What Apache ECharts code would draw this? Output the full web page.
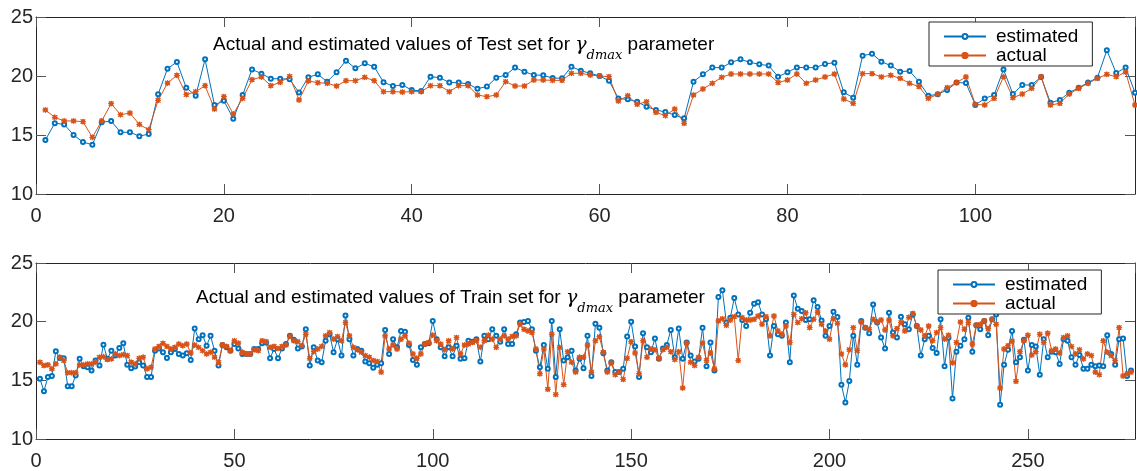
<!DOCTYPE html>
<html>
<head>
<meta charset="utf-8">
<script src="https://cdn.jsdelivr.net/npm/echarts@6/dist/echarts.min.js"></script>
<style>html,body{margin:0;padding:0;background:#fff;}#c{width:1137px;height:471px;}</style>
</head>
<body>
<div id="c"></div>
<script>
// ---- data ----
const seriesNames = ['estimated', 'actual'];
const testEstimated = [14.58,16.0,15.9,15.0,14.4,14.18,16.07,16.19,15.23,15.23,14.9,15.08,18.45,20.62,21.19,19.0,18.33,21.41,17.54,17.9,16.38,18.39,20.56,20.2,19.77,19.77,19.72,18.6,19.9,20.14,
19.52,20.31,21.3,20.65,21.07,20.79,19.46,19.15,19.24,18.81,18.73,19.94,19.86,19.44,19.44,19.32,18.93,19.1,19.86,20.08,20.71,20.37,20.08,20.06,19.83,19.8,20.79,20.45,20.23,
20.0,19.6,18.1,18.02,17.82,17.4,17.12,16.95,16.69,16.41,19.52,20.14,20.71,20.71,21.16,21.41,21.16,20.99,20.88,19.94,20.31,20.73,20.71,20.71,21.02,21.13,18.62,18.16,
21.72,21.89,21.21,20.88,20.37,20.42,19.52,18.33,18.45,18.81,19.44,19.41,17.54,18.1,18.39,20.56,18.47,19.24,19.24,19.92,17.74,17.97,18.59,19.01,19.44,19.86,22.18,20.25,20.73,18.59];
const testActual = [17.12,16.5,16.19,16.19,16.13,14.8,16.2,17.66,16.72,16.86,15.9,15.45,17.94,19.4,20.06,18.42,18.67,19.18,17.2,18.25,16.78,18.1,19.69,19.92,19.18,19.46,19.97,17.97,19.58,19.43,
19.38,19.15,19.6,19.6,19.89,19.6,18.67,18.67,18.64,18.67,18.67,19.18,19.18,18.67,19.18,19.18,18.39,18.25,18.39,19.52,19.15,19.15,19.66,19.66,19.63,19.63,20.23,20.23,20.08,
20.0,19.94,17.88,18.33,17.6,17.82,16.92,16.64,17.2,15.99,18.39,18.9,19.38,19.89,20.17,20.17,20.17,20.17,20.17,19.44,19.66,20.17,19.38,19.66,19.92,20.17,18.05,17.68,
20.2,20.2,19.92,20.06,19.8,19.38,19.1,18.1,18.45,19.01,19.44,19.92,17.6,17.54,18.1,19.94,18.16,18.47,18.95,19.94,17.54,17.68,18.47,18.95,19.38,19.8,20.14,19.94,20.34,17.54];
const trainEstimated = [15.14,14.07,15.28,15.37,17.47,16.91,16.88,14.49,14.49,15.42,16.83,16.21,16.12,15.84,16.69,16.26,18.03,16.83,17.53,17.11,17.75,18.15,16.32,16.04,16.18,16.54,16.26,15.28,15.28,17.53,17.72,17.39,16.91,17.39,17.67,17.25,17.11,17.3,16.74,19.41,18.51,18.85,17.95,18.79,17.53,16.26,
18.01,17.81,17.53,18.09,17.72,17.25,17.25,17.25,17.67,17.67,18.17,18.23,16.88,17.67,16.88,17.72,18.09,18.79,18.46,17.72,17.89,19.35,16.26,17.81,16.69,16.54,18.37,18.93,17.39,18.51,17.11,20.53,18.51,17.11,17.67,17.53,16.6,16.46,16.07,16.32,16.46,19.3,17.25,18.51,17.81,19.21,
19.13,18.01,16.74,16.32,17.81,18.09,18.17,20.06,18.51,17.81,17.05,17.81,17.05,17.95,16.83,16.88,18.37,18.29,18.51,16.6,18.79,18.51,19.35,18.79,18.29,19.35,18.09,18.09,18.93,19.92,19.97,20.06,19.35,17.53,16.12,18.01,15.98,20.06,15.28,19.35,16.69,16.97,17.53,15.84,16.83,
16.04,18.79,15.37,19.83,19.49,17.3,15.84,16.54,15.7,15.7,15.98,18.74,20.0,17.89,15.28,19.02,17.81,17.39,18.57,16.83,17.72,18.01,19.3,16.97,19.41,16.83,18.23,17.11,16.6,16.83,19.49,16.21,18.23,15.84,22.11,22.67,19.92,20.34,22.02,20.62,20.14,19.63,20.76,21.52,21.66,
20.62,20.2,17.11,19.63,18.93,18.79,19.92,16.54,22.22,21.1,20.9,20.14,20.2,21.83,21.24,20.11,18.79,19.63,20.84,20.39,14.63,13.12,14.94,18.79,16.32,20.06,19.49,19.02,21.46,19.92,18.65,17.72,20.76,19.07,18.65,20.42,19.78,19.35,20.62,19.63,17.11,18.51,18.79,17.75,17.33,20.2,
16.21,18.62,13.46,17.44,17.95,18.51,20.34,17.44,19.69,19.35,20.06,18.85,20.2,20.62,12.92,16.32,17.61,19.21,16.54,16.97,18.46,15.84,18.01,17.89,15.48,18.51,16.97,17.44,17.39,16.4,18.51,18.37,16.97,16.32,17.16,15.98,15.98,16.32,16.21,16.26,16.21,18.85,17.25,16.32,18.51,18.57,15.37,15.84];
const trainActual = [16.54,16.26,16.32,15.98,16.4,16.97,16.69,15.65,15.65,15.65,16.32,16.32,16.4,16.4,16.54,16.97,17.02,16.77,16.83,17.25,17.11,17.19,17.11,16.54,16.4,16.88,16.97,15.98,16.12,17.67,17.89,18.15,17.89,17.67,17.81,18.09,17.95,18.09,17.33,18.01,17.81,17.53,17.25,17.39,16.97,16.54,
18.01,17.89,17.53,18.37,18.17,17.39,17.25,17.25,17.61,17.53,18.37,18.29,17.81,17.89,17.72,17.89,18.01,18.74,18.37,18.29,17.95,18.93,16.88,17.44,17.67,17.89,18.79,19.07,18.51,18.74,18.37,19.92,18.79,17.81,17.61,17.39,17.11,16.97,16.69,16.6,15.7,18.79,17.67,18.01,17.67,18.51,
18.79,18.17,17.25,16.88,17.25,18.09,18.23,18.85,18.37,18.09,17.61,18.37,17.67,18.65,17.25,18.01,18.09,18.23,18.37,17.81,18.37,18.85,18.51,17.81,18.51,18.79,18.51,18.74,18.79,19.78,19.35,19.21,19.07,17.67,15.56,17.67,14.24,18.93,13.79,17.81,14.63,17.44,16.54,15.7,16.97,
16.97,18.01,15.7,18.37,18.71,17.39,15.7,16.49,15.48,15.7,15.08,16.88,18.29,17.33,15.56,18.37,16.97,17.67,17.61,16.88,17.61,17.81,17.44,16.77,17.44,14.35,18.17,16.54,16.26,16.97,18.17,16.69,17.33,15.98,20.06,20.25,19.69,20.14,20.42,16.69,20.34,20.14,20.14,20.2,20.48,
19.78,20.42,18.79,20.48,19.21,18.93,19.63,18.23,20.62,19.92,20.25,20.76,19.49,20.2,20.81,19.78,19.21,18.51,20.25,19.86,17.25,16.32,17.61,19.49,17.53,19.97,19.49,19.35,20.2,19.97,20.14,19.3,20.14,18.79,19.41,19.92,19.21,20.37,20.7,19.63,19.3,18.79,19.63,18.37,19.07,19.49,
18.51,18.85,16.49,18.23,19.97,19.35,19.92,18.09,19.69,19.78,20.06,19.41,20.2,19.78,14.35,17.67,17.95,18.34,14.92,17.44,18.37,18.85,17.16,17.44,18.93,18.23,19.02,17.53,17.67,17.33,18.65,18.79,17.89,17.25,17.61,16.83,17.25,17.11,15.7,15.48,18.37,17.39,17.11,16.69,19.49,15.37,15.56,15.7];
const yTicks = [10, 15, 20, 25];
const testXMax = 117, testXStep = 20;
const trainXMax = 277, trainXStep = 50;
const testTitle = 'Actual and estimated values of Test set for {g|γ}{s|dmax} parameter';
const trainTitle = 'Actual and estimated values of Train set for {g|γ}{s|dmax} parameter';

// ---- build ----
const FONT = '"Liberation Sans", Arial, Helvetica, sans-serif';
const AX = '#262626';
const BLUE = '#0072BD', ORANGE = '#D95319';
const STAR = 'path://M4.4,0H5.6V10H4.4Z M0,4.4H10V5.6H0Z M1.4,0.5L9.5,8.6L8.6,9.5L0.5,1.4Z M8.6,0.5L9.5,1.4L1.4,9.5L0.5,8.6Z';

function pairs(arr) { return arr.map((v, i) => [i + 1, v]); }

const titleRich = {
  g: { fontFamily: '"DejaVu Serif", serif', fontStyle: 'italic', fontSize: 19, color: '#000', lineHeight: 26 },
  s: { fontFamily: '"DejaVu Serif", serif', fontStyle: 'italic', fontSize: 13, color: '#000', lineHeight: 14, verticalAlign: 'bottom', padding: [0, 0, -4, 0] }
};

function xAxes(gi, max, step) {
  const common = {
    gridIndex: gi, type: 'value', min: 0, max: max, interval: step,
    axisLine: { show: true, onZero: false, lineStyle: { color: AX, width: 1 } },
    axisTick: { show: true, inside: true, length: 10, lineStyle: { color: '#555', width: 1 } },
    splitLine: { show: false }
  };
  return [
    Object.assign({}, common, { position: 'bottom', axisLabel: { show: true, fontSize: 20, fontFamily: FONT, color: AX, margin: 12, showMaxLabel: false } }),
    Object.assign({}, common, { position: 'top', axisLabel: { show: false } })
  ];
}
function yAxes(gi) {
  const common = {
    gridIndex: gi, type: 'value', min: yTicks[0], max: yTicks[yTicks.length - 1], interval: yTicks[1] - yTicks[0],
    axisLine: { show: true, onZero: false, lineStyle: { color: AX, width: 1 } },
    axisTick: { show: true, inside: true, length: 10, lineStyle: { color: '#555', width: 1 } },
    splitLine: { show: false }
  };
  return [
    Object.assign({}, common, { position: 'left', axisLabel: { show: true, fontSize: 20, fontFamily: FONT, color: AX, margin: 3 } }),
    Object.assign({}, common, { position: 'right', axisLabel: { show: false } })
  ];
}
function legend(left, top) {
  return {
    orient: 'vertical', left: left, top: top, data: seriesNames,
    padding: [5, 14, 1, 14], itemGap: 0, itemWidth: 42, itemHeight: 6,
    backgroundColor: '#fff', borderColor: '#262626', borderWidth: 1, borderRadius: 0,
    textStyle: { fontSize: 19, fontFamily: FONT, color: '#000', padding: [0, 0, 0, 5], lineHeight: 19 }
  };
}
function lineSeries(name, data, xi, yi, color, symbol, size) {
  return {
    name: name, type: 'line', xAxisIndex: xi, yAxisIndex: yi, data: pairs(data),
    symbol: symbol, symbolSize: size, showSymbol: true, animation: false,
    lineStyle: { color: color, width: 1 },
    itemStyle: { color: color, borderColor: color, borderWidth: 1 },
    emphasis: { disabled: true }
  };
}

const option = {
  backgroundColor: '#fff',
  animation: false,
  title: [
    { text: testTitle, left: 213, top: 32, padding: 0, textStyle: { fontSize: 19, fontWeight: 'normal', fontFamily: FONT, color: '#000', lineHeight: 26, rich: titleRich } },
    { text: trainTitle, left: 196, top: 285, padding: 0, textStyle: { fontSize: 19, fontWeight: 'normal', fontFamily: FONT, color: '#000', lineHeight: 26, rich: titleRich } }
  ],
  legend: [legend(929, 22), legend(938, 270)],
  grid: [
    { left: 36, right: 2, top: 17, height: 177, containLabel: false },
    { left: 36, right: 2, top: 263, height: 176, containLabel: false }
  ],
  xAxis: xAxes(0, testXMax, testXStep).concat(xAxes(1, trainXMax, trainXStep)),
  yAxis: yAxes(0).concat(yAxes(1)),
  series: [
    lineSeries(seriesNames[0], testEstimated, 0, 0, BLUE, 'emptyCircle', 4),
    lineSeries(seriesNames[1], testActual, 0, 0, ORANGE, STAR, 5),
    lineSeries(seriesNames[0], trainEstimated, 2, 2, BLUE, 'emptyCircle', 4),
    lineSeries(seriesNames[1], trainActual, 2, 2, ORANGE, STAR, 5)
  ]
};

const chart = echarts.init(document.getElementById('c'), null, { renderer: 'canvas' });
chart.setOption(option);
</script>
</body>
</html>
